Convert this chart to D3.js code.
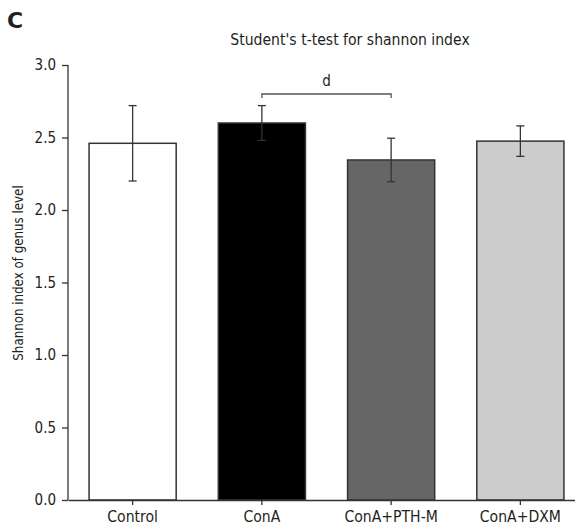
<!DOCTYPE html>
<html><head><meta charset="utf-8">
<script src="https://cdn.jsdelivr.net/npm/d3@7"></script>
<style>body{margin:0;background:#fff}svg{display:block}text{font-family:"DejaVu Sans Condensed","DejaVu Sans",sans-serif;fill:#231f20}</style>
</head><body>
<svg id="c" width="575" height="531"></svg>
<script>
const categories = ["Control", "ConA", "ConA+PTH-M", "ConA+DXM"];
const means = [2.46, 2.60, 2.345, 2.475];
const sds = [0.26, 0.12, 0.15, 0.105];
const fills = ["#ffffff", "#000000", "#666666", "#cccccc"];
const yTicks = [0, 0.5, 1.0, 1.5, 2.0, 2.5, 3.0];

const FONT = "'DejaVu Sans Condensed','DejaVu Sans',sans-serif";
const svg = d3.select("#c");
const x0 = 68, yBottom = 500, yTop = 65;
const x = d3.scaleBand().domain(categories).range([x0, 585]).paddingInner(0.326).paddingOuter(0.163);
const y = d3.scaleLinear().domain([0, 3]).range([yBottom, yTop]);

// bars
svg.selectAll("rect.bar").data(categories).enter().append("rect")
  .attr("x", d => x(d)).attr("width", x.bandwidth())
  .attr("y", (d, i) => y(means[i])).attr("height", (d, i) => y(0) - y(means[i]))
  .attr("fill", (d, i) => fills[i]).attr("stroke", "#333").attr("stroke-width", 1.5);

// error bars
const cap = 4;
categories.forEach((c, i) => {
  const cx = x(c) + x.bandwidth() / 2;
  const g = svg.append("g").attr("stroke", "#333").attr("stroke-width", 1.3);
  g.append("line").attr("x1", cx).attr("x2", cx).attr("y1", y(means[i] + sds[i])).attr("y2", y(means[i] - sds[i]));
  g.append("line").attr("x1", cx - cap).attr("x2", cx + cap).attr("y1", y(means[i] + sds[i])).attr("y2", y(means[i] + sds[i]));
  g.append("line").attr("x1", cx - cap).attr("x2", cx + cap).attr("y1", y(means[i] - sds[i])).attr("y2", y(means[i] - sds[i]));
});

// axes
const yAxis = svg.append("g").attr("transform", `translate(${x0},0)`)
  .call(d3.axisLeft(y).tickValues(yTicks).tickFormat(d3.format(".1f")).tickSize(6).tickSizeOuter(0));
const xAxis = svg.append("g").attr("transform", `translate(0,${yBottom})`)
  .call(d3.axisBottom(x).tickSize(5).tickSizeOuter(0));
[yAxis, xAxis].forEach(a => {
  a.selectAll("path,line").attr("stroke", "#333").attr("stroke-width", 1.3);
  a.selectAll("text").style("font-family", FONT).attr("fill", "#231f20");
});
yAxis.selectAll("text").style("font-size", "15px");
xAxis.selectAll("text").style("font-size", "15.6px");
yAxis.select("path.domain").attr("d", `M0,${yTop}V${yBottom}`);
yAxis.selectAll("text").attr("x", -12);
xAxis.selectAll("text").attr("y", 11);

// significance bracket
const c1 = x("ConA") + x.bandwidth() / 2, c2 = x("ConA+PTH-M") + x.bandwidth() / 2;
const by = 94;
svg.append("path").attr("d", `M${c1},${by + 4}V${by}H${c2}V${by + 4}`)
  .attr("fill", "none").attr("stroke", "#555").attr("stroke-width", 1.3);
svg.append("text").attr("x", (c1 + c2) / 2).attr("y", 86).attr("text-anchor", "middle").style("font-size", "15px").text("d");

// titles
svg.append("text").attr("x", 350).attr("y", 45).attr("text-anchor", "middle").style("font-size", "15.6px")
  .text("Student's t-test for shannon index");
svg.append("text").attr("x", 7).attr("y", 28).style("font-family", "'DejaVu Sans',sans-serif").style("font-size", "22px").style("font-weight", "bold").text("C");
svg.append("text").attr("transform", `translate(23,273) rotate(-90)`).attr("text-anchor", "middle")
  .attr("fill", "#231f20").style("font-size", "13.2px").text("Shannon index of genus level");
</script>
</body></html>
